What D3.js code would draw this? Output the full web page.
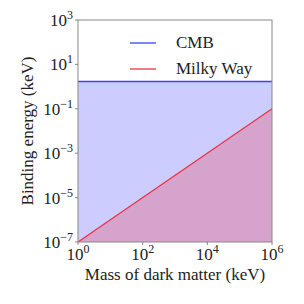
<!DOCTYPE html>
<html>
<head>
<meta charset="utf-8">
<title>binding energy</title>
<script src="https://cdn.jsdelivr.net/npm/d3@7"></script>
</head>
<body style="margin:0;background:#fff">
<div id="wrap"></div>
<script>
// data
var masses = [1, 1e6];                 // keV
var cmbEnergy = [1.7, 1.7];            // keV
var milkyWayEnergy = [1e-7, 1e-1];     // keV
var xTicks = [1e0, 1e2, 1e4, 1e6];
var yTicks = [1e-7, 1e-5, 1e-3, 1e-1, 1e1, 1e3];
var seriesNames = ["CMB", "Milky Way"];
var seriesColors = ["#3344ff", "#ee3344"];

var margin = { top: 20, left: 78, right: 32, bottom: 62 };
var W = 304, H = 304;
var w = W - margin.left - margin.right, h = H - margin.top - margin.bottom;

var svg = d3.select('#wrap').append('svg').attr('width', W).attr('height', H)
  .attr('font-family', 'Times New Roman').attr('fill', '#222');
var g = svg.append('g').attr('transform', 'translate(' + margin.left + ',' + margin.top + ')');

var x = d3.scaleLog().domain([1, 1e6]).range([0, w]);
var y = d3.scaleLog().domain([1e-7, 1e3]).range([h, 0]);

var pts = function(vals){ return masses.map(function(m, i){ return [m, vals[i]]; }); };
var area = d3.area().x(function(d){ return x(d[0]); }).y0(h).y1(function(d){ return y(d[1]); });
var line = d3.line().x(function(d){ return x(d[0]); }).y(function(d){ return y(d[1]); });

// shaded regions, then the boundary lines
[cmbEnergy, milkyWayEnergy].forEach(function(vals, i){
  g.append('path').datum(pts(vals)).attr('d', area)
    .attr('fill', i === 0 ? '#0000ff' : '#ff0000').attr('fill-opacity', 0.2);
});
[cmbEnergy, milkyWayEnergy].forEach(function(vals, i){
  g.append('path').datum(pts(vals)).attr('d', line)
    .attr('fill', 'none').attr('stroke', seriesColors[i]).attr('stroke-width', 1.3);
});

// frame
g.append('rect').attr('width', w).attr('height', h).attr('fill', 'none').attr('stroke', '#888');

var expOf = function(v){ var e = Math.round(Math.log10(v)); return e < 0 ? '\u2212' + (-e) : '' + e; };

// x ticks
var xt = g.selectAll('g.xt').data(xTicks).enter().append('g').attr('class', 'xt')
  .attr('transform', function(d){ return 'translate(' + x(d) + ',' + h + ')'; });
xt.append('line').attr('y2', 3).attr('stroke', '#888');
var xtxt = xt.append('text').attr('y', 18).attr('text-anchor', 'middle').attr('font-size', 17);
xtxt.append('tspan').text('10');
xtxt.append('tspan').attr('dy', -7).attr('font-size', 12).text(expOf);

// y ticks
var yt = g.selectAll('g.yt').data(yTicks).enter().append('g').attr('class', 'yt')
  .attr('transform', function(d){ return 'translate(0,' + y(d) + ')'; });
yt.append('line').attr('x1', -3).attr('stroke', '#888');
var ytxt = yt.append('text').attr('x', -5).attr('y', 6).attr('text-anchor', 'end').attr('font-size', 17);
ytxt.append('tspan').text('10');
ytxt.append('tspan').attr('dy', -7).attr('font-size', 12).text(expOf);

// axis titles
svg.append('text').attr('x', margin.left + w / 2).attr('y', 280).attr('text-anchor', 'middle')
  .attr('font-size', 17).text('Mass of dark matter (keV)');
svg.append('text').attr('transform', 'translate(33,' + (margin.top + h / 2) + ') rotate(-90)')
  .attr('text-anchor', 'middle').attr('font-size', 17).text('Binding energy (keV)');

// legend
var leg = g.selectAll('g.leg').data(seriesNames).enter().append('g').attr('class', 'leg')
  .attr('transform', function(d, i){ return 'translate(52,' + (23 + i * 26) + ')'; });
leg.append('line').attr('x2', 26).attr('stroke', function(d, i){ return seriesColors[i]; }).attr('stroke-width', 1.3);
leg.append('text').attr('x', 46).attr('y', 5).attr('font-size', 17).text(function(d){ return d; });
</script>
</body>
</html>
